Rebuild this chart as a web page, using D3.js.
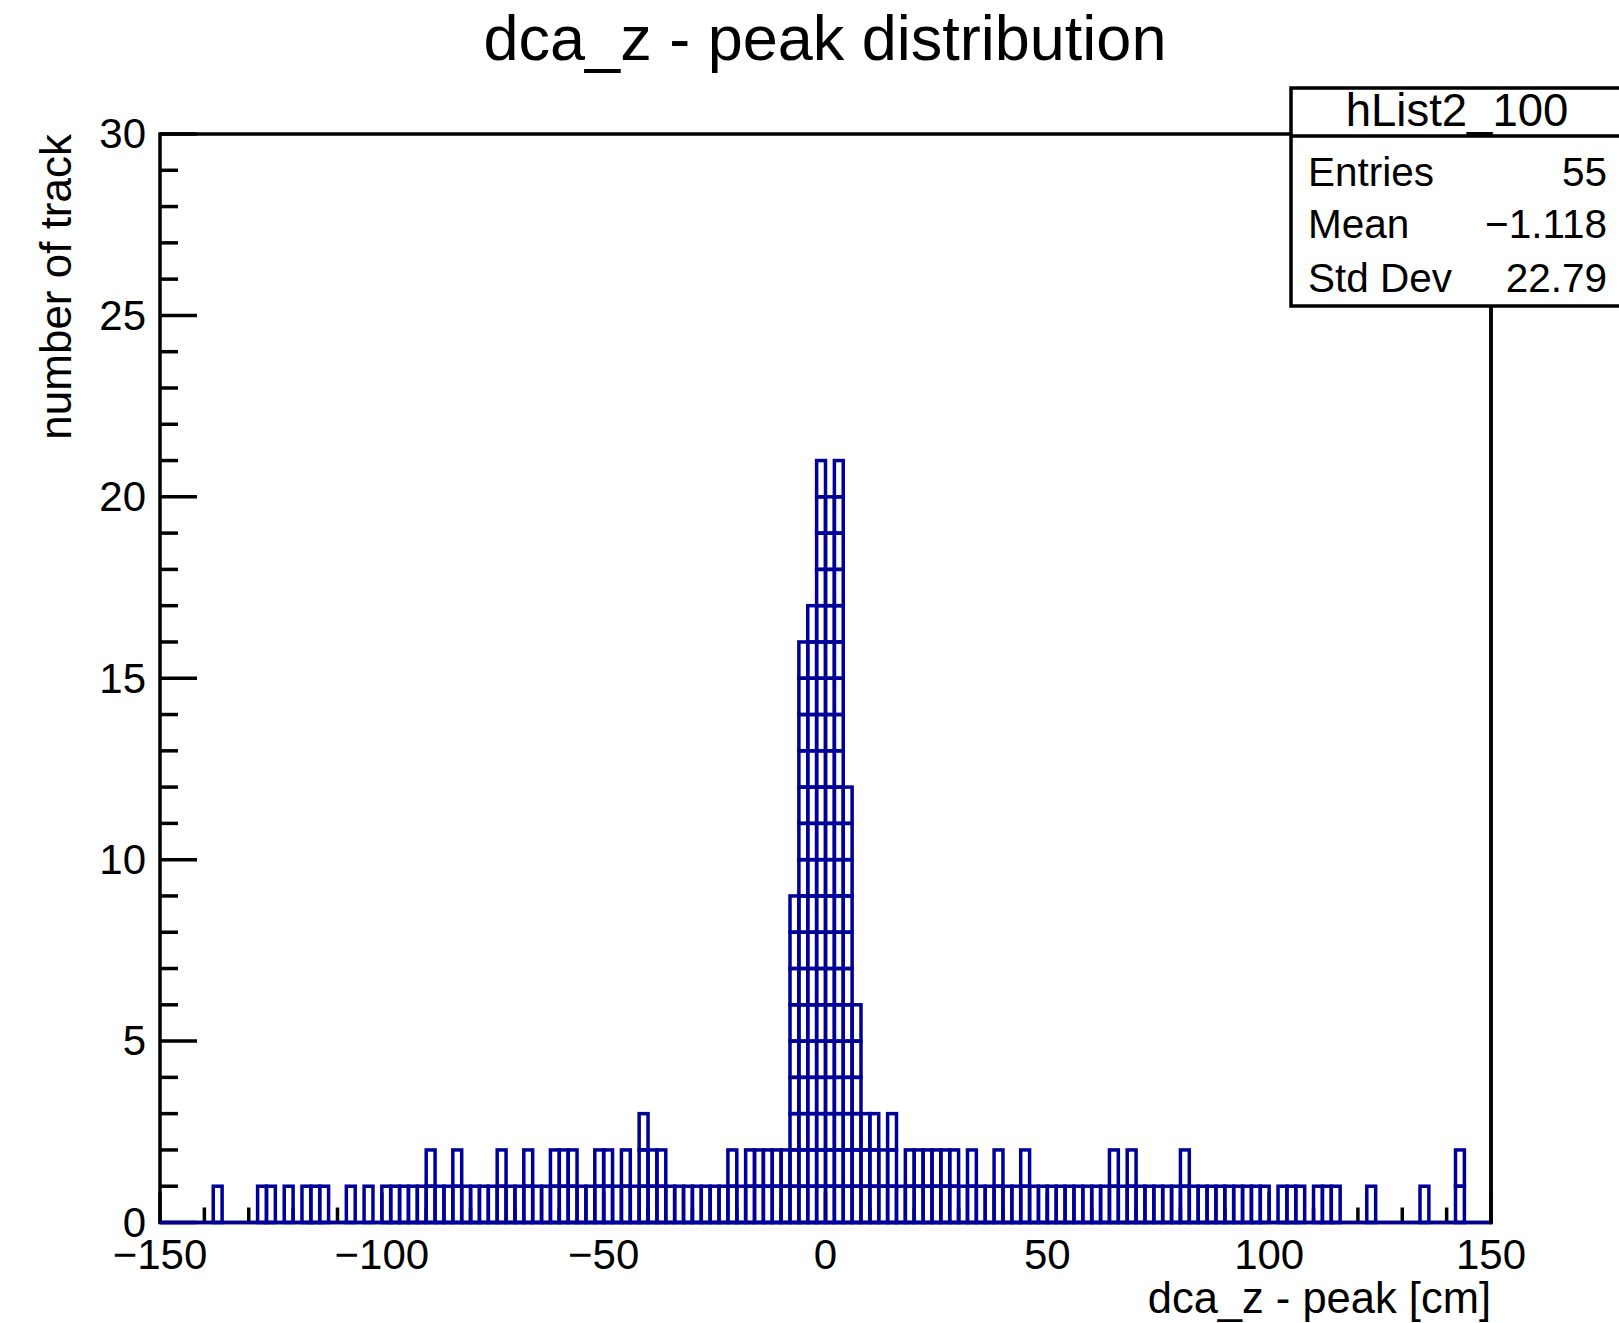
<!DOCTYPE html>
<html>
<head>
<meta charset="utf-8">
<script src="https://cdn.jsdelivr.net/npm/d3@7/dist/d3.min.js"></script>
<style>
  html, body { margin: 0; padding: 0; background: #ffffff; }
  svg { display: block; }
  text { font-family: "Liberation Sans", Arial, Helvetica, sans-serif; fill: #000; }
</style>
</head>
<body>
<script>
// Histogram binning: 150 bins of width 2 cm from -150 to 150
const binLow = -150;
const binWidth = 2;
// Counts per bin, left to right
const counts = [
  0, 0, 0, 0, 0, 0, 1, 0, 0, 0,      // -150 .. -132
  0, 1, 1, 0, 1, 0, 1, 1, 1, 0,      // -130 .. -112
  0, 1, 0, 1, 0, 1, 1, 1, 1, 1,      // -110 .. -92
  2, 1, 1, 2, 1, 1, 1, 1, 2, 1,      // -90 .. -72
  1, 2, 1, 1, 2, 2, 2, 1, 1, 2,      // -70 .. -52
  2, 1, 2, 1, 3, 2, 2, 1, 1, 1,      // -50 .. -32
  1, 1, 1, 1, 2, 1, 2, 2, 2, 2,      // -30 .. -12
  2, 9, 16, 17, 21, 20, 21, 12, 6, 3, // -10 .. 8
  3, 2, 3, 1, 2, 2, 2, 2, 2, 2,      // 10 .. 28
  1, 2, 1, 1, 2, 1, 1, 2, 1, 1,      // 30 .. 48
  1, 1, 1, 1, 1, 1, 1, 2, 1, 2,      // 50 .. 68
  1, 1, 1, 1, 1, 2, 1, 1, 1, 1,      // 70 .. 88
  1, 1, 1, 1, 1, 0, 1, 1, 1, 0,      // 90 .. 108
  1, 1, 1, 0, 0, 0, 1, 0, 0, 0,      // 110 .. 128
  0, 0, 1, 0, 0, 0, 2, 0, 0, 0       // 130 .. 148
];

const xDomain = [-150, 150];
const yDomain = [0, 30];
const xMajorTicks = [-150, -100, -50, 0, 50, 100, 150];
const xMinorTicks = d3.range(-150, 151, 10);
const yMajorTicks = [0, 5, 10, 15, 20, 25, 30];
const yMinorTicks = d3.range(0, 31, 1);

const titleText = "dca_z - peak distribution";
const xTitle = "dca_z - peak [cm]";
const yTitle = "number of track";

const statsName = "hList2_100";
const statsLabels = ["Entries", "Mean", "Std Dev"];
const statsValues = ["55", "\u22121.118", "22.79"];

const W = 1619, H = 1323;
const frame = { left: 160, right: 1491, top: 134, bottom: 1222.5 };
const histColor = "#000099";
const lw = 3.5;

const svg = d3.select("body").append("svg").attr("width", W).attr("height", H);
svg.append("rect").attr("width", W).attr("height", H).attr("fill", "#fff");

const x = d3.scaleLinear().domain(xDomain).range([frame.left, frame.right]);
const y = d3.scaleLinear().domain(yDomain).range([frame.bottom, frame.top]);

const fmt = v => (v < 0 ? "\u2212" + Math.abs(v) : String(v));

// Frame
const axisG = svg.append("g").attr("stroke", "#000").attr("stroke-width", lw).attr("fill", "none");
axisG.append("rect")
  .attr("x", frame.left).attr("y", frame.top)
  .attr("width", frame.right - frame.left).attr("height", frame.bottom - frame.top);

// Y axis ticks
axisG.selectAll("line.ymin").data(yMinorTicks).join("line")
  .attr("x1", frame.left).attr("x2", d => frame.left + (d % 5 === 0 ? 37 : 18))
  .attr("y1", d => y(d)).attr("y2", d => y(d));

// X axis ticks
axisG.selectAll("line.xmin").data(xMinorTicks).join("line")
  .attr("x1", d => x(d)).attr("x2", d => x(d))
  .attr("y1", frame.bottom).attr("y2", d => frame.bottom - (d % 50 === 0 ? 30 : 15));

// Histogram: each bin drawn as stacked unit boxes
const boxes = [];
counts.forEach((c, i) => {
  for (let k = 1; k <= c; k++) boxes.push({ i, k });
});
const histG = svg.append("g").attr("stroke", histColor).attr("stroke-width", lw).attr("fill", "none");
histG.append("line")
  .attr("x1", x(xDomain[0])).attr("x2", x(xDomain[1]))
  .attr("y1", y(0)).attr("y2", y(0));
histG.selectAll("rect").data(boxes).join("rect")
  .attr("x", d => x(binLow + d.i * binWidth))
  .attr("width", d => x(binLow + (d.i + 1) * binWidth) - x(binLow + d.i * binWidth))
  .attr("y", d => y(d.k))
  .attr("height", d => y(d.k - 1) - y(d.k));

// Right frame edge on top of the baseline
svg.append("line").attr("stroke", "#000").attr("stroke-width", lw)
  .attr("x1", frame.right).attr("x2", frame.right)
  .attr("y1", frame.top).attr("y2", frame.bottom + 1.75);

// Tick labels
svg.append("g").selectAll("text").data(yMajorTicks).join("text")
  .attr("x", 146).attr("y", d => y(d)).attr("dy", "0.34em")
  .attr("text-anchor", "end").attr("font-size", 42)
  .text(fmt);
svg.append("g").selectAll("text").data(xMajorTicks).join("text")
  .attr("x", d => x(d)).attr("y", 1269)
  .attr("text-anchor", "middle").attr("font-size", 42)
  .text(fmt);

// Titles
svg.append("text").attr("x", 825).attr("y", 60).attr("text-anchor", "middle")
  .attr("font-size", 63).text(titleText);
svg.append("text").attr("x", frame.right).attr("y", 1313).attr("text-anchor", "end")
  .attr("font-size", 43.5).text(xTitle);
svg.append("text").attr("transform", `translate(71, ${frame.top}) rotate(-90)`)
  .attr("text-anchor", "end").attr("font-size", 44).text(yTitle);

// Statistics box
const sb = { left: 1291, top: 88, sep: 136, bottom: 306, right: 1630 };
const statsG = svg.append("g");
statsG.append("rect")
  .attr("x", sb.left).attr("y", sb.top)
  .attr("width", sb.right - sb.left).attr("height", sb.bottom - sb.top)
  .attr("fill", "#fff").attr("stroke", "#000").attr("stroke-width", lw);
statsG.append("line").attr("stroke", "#000").attr("stroke-width", lw)
  .attr("x1", sb.left).attr("x2", sb.right).attr("y1", sb.sep).attr("y2", sb.sep);
statsG.append("text").attr("x", 1457).attr("y", 126).attr("text-anchor", "middle")
  .attr("font-size", 45.5).text(statsName);
const rowY = [186, 238, 292];
statsG.selectAll("text.lbl").data(statsLabels).join("text")
  .attr("x", 1308).attr("y", (d, i) => rowY[i]).attr("font-size", 40.5).text(d => d);
statsG.selectAll("text.val").data(statsValues).join("text")
  .attr("x", 1607).attr("y", (d, i) => rowY[i]).attr("text-anchor", "end")
  .attr("font-size", 40.5).text(d => d);
</script>
</body>
</html>
